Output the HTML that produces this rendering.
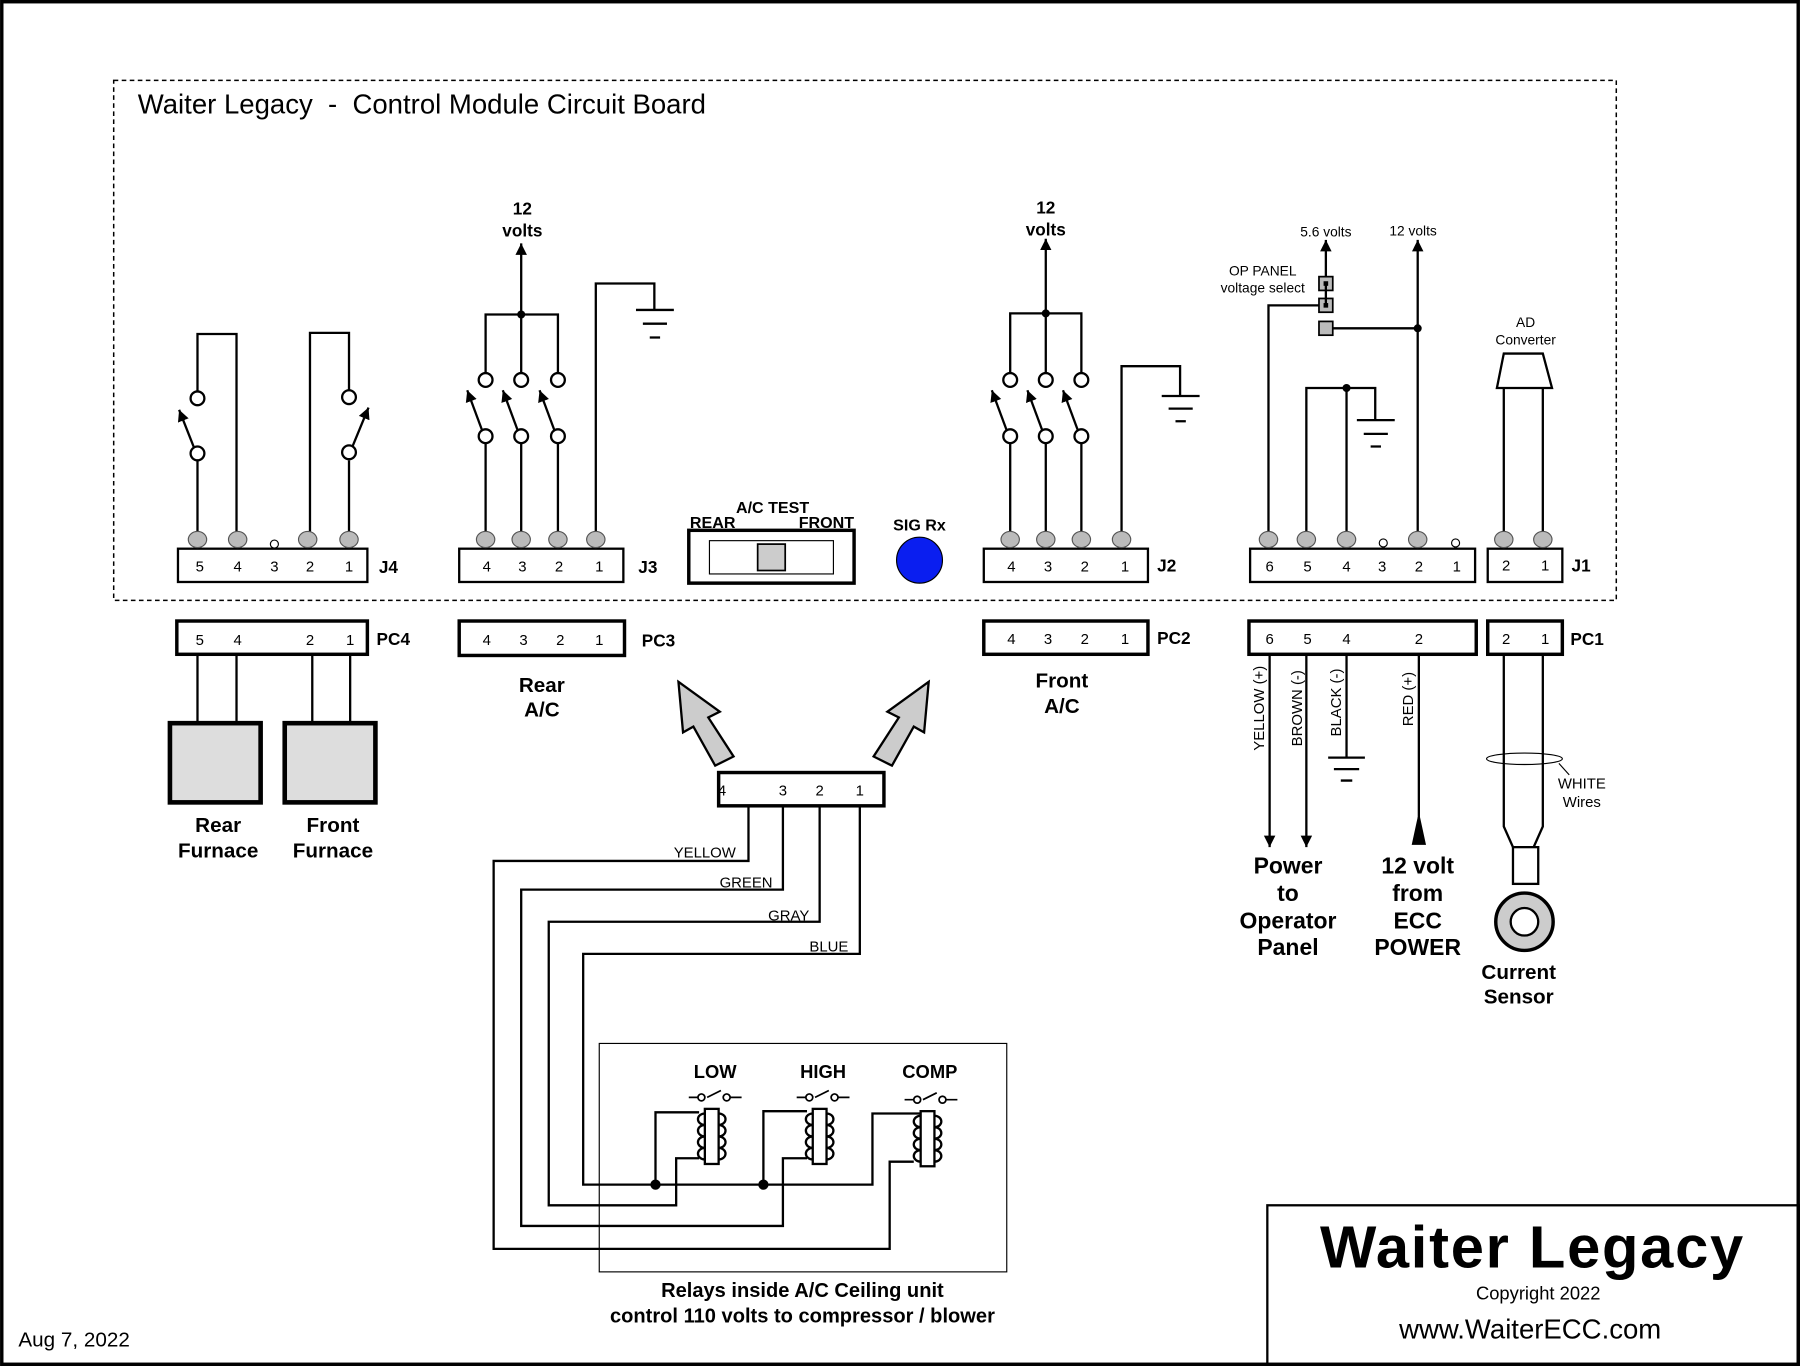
<!DOCTYPE html>
<html><head><meta charset="utf-8"><style>
html,body{margin:0;padding:0;background:#fff}
svg{display:block}
text{font-family:"Liberation Sans",Arial,sans-serif;fill:#000}
</style></head><body>
<svg width="1800" height="1366" viewBox="0 0 1568 1190" xmlns="http://www.w3.org/2000/svg">
<defs>
<marker id="ah" markerWidth="12" markerHeight="12" refX="10" refY="5" orient="auto" markerUnits="userSpaceOnUse">
<path d="M0,0 L10,5 L0,10 Z" fill="#000"/></marker>
</defs>
<rect x="1.5" y="1.5" width="1565" height="1187" fill="#fff" stroke="#000" stroke-width="3"/>
<rect x="99" y="70" width="1309" height="453" fill="none" stroke="#000" stroke-width="1.3" stroke-dasharray="4,3"/>
<text x="120" y="99" font-size="24" xml:space="preserve">Waiter Legacy  -  Control Module Circuit Board</text>

<g stroke="#000" stroke-width="2" fill="none">
<rect x="155" y="478" width="165" height="29"/>
<path d="M172,470 V401 M172,347 V291 H206 V470"/>
<path d="M304,470 V401 M304,340 V290 H270 V470"/>
<circle cx="172" cy="395" r="6" fill="#fff"/><circle cx="172" cy="347" r="6" fill="#fff"/>
<circle cx="304" cy="394" r="6" fill="#fff"/><circle cx="304" cy="346" r="6" fill="#fff"/>
<line x1="169" y1="390" x2="156" y2="357" marker-end="url(#ah)"/>
<line x1="307" y1="389" x2="321" y2="355" marker-end="url(#ah)"/>
<rect x="400" y="478" width="143" height="29"/>
<path d="M423,470 V386 M454,470 V386 M486,470 V386 M423,325 V274 H486 V325 M454,325 V274"/>
<line x1="454" y1="274" x2="454" y2="212" marker-end="url(#ah)"/>
<circle cx="423" cy="380" r="6" fill="#fff"/><circle cx="454" cy="380" r="6" fill="#fff"/><circle cx="486" cy="380" r="6" fill="#fff"/>
<circle cx="423" cy="331" r="6" fill="#fff"/><circle cx="454" cy="331" r="6" fill="#fff"/><circle cx="486" cy="331" r="6" fill="#fff"/>
<line x1="420" y1="375" x2="407" y2="340" marker-end="url(#ah)"/>
<line x1="451" y1="375" x2="438" y2="340" marker-end="url(#ah)"/>
<line x1="483" y1="375" x2="470" y2="340" marker-end="url(#ah)"/>
<path d="M519,470 V247 H570 V270 M554,270 H587 M560,282 H581 M566,294 H575"/>
<rect x="600" y="462" width="144" height="46" stroke-width="3"/>
<rect x="618" y="471" width="108" height="29" stroke-width="1"/>
<rect x="660" y="474" width="24" height="23" fill="#ccc" stroke-width="1.5"/>
<rect x="857" y="478" width="143" height="29"/>
<path d="M880,470 V386 M911,470 V386 M942,470 V386 M880,325 V273 H942 V325 M911,325 V273"/>
<line x1="911" y1="273" x2="911" y2="208" marker-end="url(#ah)"/>
<circle cx="880" cy="380" r="6" fill="#fff"/><circle cx="911" cy="380" r="6" fill="#fff"/><circle cx="942" cy="380" r="6" fill="#fff"/>
<circle cx="880" cy="331" r="6" fill="#fff"/><circle cx="911" cy="331" r="6" fill="#fff"/><circle cx="942" cy="331" r="6" fill="#fff"/>
<line x1="877" y1="375" x2="864" y2="340" marker-end="url(#ah)"/>
<line x1="908" y1="375" x2="895" y2="340" marker-end="url(#ah)"/>
<line x1="939" y1="375" x2="926" y2="340" marker-end="url(#ah)"/>
<path d="M977,470 V319 H1028 V345 M1012,345 H1045 M1018,356 H1039 M1024,367 H1033"/>
<rect x="1089" y="478" width="196" height="29"/>
<rect x="1296" y="478" width="65" height="29"/>
<path d="M1105,470 V266 H1149 M1138,470 V338 H1198 V366 M1173,470 V338 M1182,366 H1215 M1188,378 H1209 M1194,389 H1203"/>
<path d="M1160,286 H1235 M1235,470 V286"/>
<line x1="1235" y1="286" x2="1235" y2="209" marker-end="url(#ah)"/>
<line x1="1155" y1="241" x2="1155" y2="209" marker-end="url(#ah)"/>
<path d="M1310,470 V338 M1344,470 V338"/>
<path d="M1310,308 H1344 L1352,338 H1304 Z"/>
</g>
<g stroke="#000" stroke-width="1.5">
<rect x="1149" y="241" width="12" height="12" fill="#bbb"/>
<rect x="1149" y="260" width="12" height="12" fill="#bbb"/>
<rect x="1149" y="280" width="12" height="12" fill="#bbb"/>
<line x1="1155" y1="247" x2="1155" y2="266" stroke-width="2"/>
</g>
<rect x="1153" y="245" width="4" height="4"/><rect x="1153" y="264" width="4" height="4"/>
<g fill="#000">
<circle cx="454" cy="274" r="3.5"/><circle cx="911" cy="273" r="3.5"/><circle cx="1235" cy="286" r="3.5"/><circle cx="1173" cy="338" r="3.5"/>
</g>
<g fill="#bbb" stroke="#555" stroke-width="1">
<ellipse cx="172" cy="470" rx="8" ry="7"/><ellipse cx="207" cy="470" rx="8" ry="7"/><ellipse cx="268" cy="470" rx="8" ry="7"/><ellipse cx="304" cy="470" rx="8" ry="7"/>
<ellipse cx="423" cy="470" rx="8" ry="7"/><ellipse cx="454" cy="470" rx="8" ry="7"/><ellipse cx="486" cy="470" rx="8" ry="7"/><ellipse cx="519" cy="470" rx="8" ry="7"/>
<ellipse cx="880" cy="470" rx="8" ry="7"/><ellipse cx="911" cy="470" rx="8" ry="7"/><ellipse cx="942" cy="470" rx="8" ry="7"/><ellipse cx="977" cy="470" rx="8" ry="7"/>
<ellipse cx="1105" cy="470" rx="8" ry="7"/><ellipse cx="1138" cy="470" rx="8" ry="7"/><ellipse cx="1173" cy="470" rx="8" ry="7"/><ellipse cx="1235" cy="470" rx="8" ry="7"/>
<ellipse cx="1310" cy="470" rx="8" ry="7"/><ellipse cx="1344" cy="470" rx="8" ry="7"/>
</g>
<g fill="#fff" stroke="#000" stroke-width="1">
<circle cx="239" cy="474" r="3.5"/><circle cx="1205" cy="473" r="3.5"/><circle cx="1268" cy="473" r="3.5"/>
</g>
<circle cx="801" cy="488" r="20" fill="#0a1ef0" stroke="#000" stroke-width="1"/>

<g font-size="13" text-anchor="middle">
<text x="174" y="498">5</text><text x="207" y="498">4</text><text x="239" y="498">3</text><text x="270" y="498">2</text><text x="304" y="498">1</text>
<text x="424" y="498">4</text><text x="455" y="498">3</text><text x="487" y="498">2</text><text x="522" y="498">1</text>
<text x="881" y="498">4</text><text x="913" y="498">3</text><text x="945" y="498">2</text><text x="980" y="498">1</text>
<text x="1106" y="498">6</text><text x="1139" y="498">5</text><text x="1173" y="498">4</text><text x="1204" y="498">3</text><text x="1236" y="498">2</text><text x="1269" y="498">1</text>
<text x="1312" y="497">2</text><text x="1346" y="497">1</text>
<text x="174" y="562">5</text><text x="207" y="562">4</text><text x="270" y="562">2</text><text x="305" y="562">1</text>
<text x="424" y="562">4</text><text x="456" y="562">3</text><text x="488" y="562">2</text><text x="522" y="562">1</text>
<text x="881" y="561">4</text><text x="913" y="561">3</text><text x="945" y="561">2</text><text x="980" y="561">1</text>
<text x="1106" y="561">6</text><text x="1139" y="561">5</text><text x="1173" y="561">4</text><text x="1236" y="561">2</text>
<text x="1312" y="561">2</text><text x="1346" y="561">1</text>
<text x="629" y="693">4</text><text x="682" y="693">3</text><text x="714" y="693">2</text><text x="749" y="693">1</text>
</g>
<g font-size="15" font-weight="bold">
<text x="330" y="499">J4</text><text x="556" y="499">J3</text><text x="1008" y="498">J2</text><text x="1369" y="498">J1</text>
<text x="328" y="562">PC4</text><text x="559" y="563">PC3</text><text x="1008" y="561">PC2</text><text x="1368" y="562">PC1</text>
</g>
<g font-size="15" font-weight="bold" text-anchor="middle">
<text x="455" y="187">12</text><text x="455" y="206">volts</text>
<text x="911" y="186">12</text><text x="911" y="205">volts</text>
<text x="673" y="447" font-size="14">A/C TEST</text>
<text x="801" y="462" font-size="14">SIG Rx</text>
</g>
<text x="601" y="460" font-size="14" font-weight="bold">REAR</text>
<text x="744" y="460" font-size="14" font-weight="bold" text-anchor="end">FRONT</text>
<g font-size="12" text-anchor="middle">
<text x="1155" y="206">5.6 volts</text><text x="1231" y="205">12 volts</text>
<text x="1100" y="240">OP PANEL</text><text x="1100" y="255">voltage select</text>
<text x="1329" y="285">AD</text><text x="1329" y="300">Converter</text>
</g>

<g stroke="#000" stroke-width="2" fill="none">
<rect x="154" y="541" width="166" height="29" stroke-width="3"/>
<rect x="400" y="541" width="144" height="30" stroke-width="3"/>
<rect x="857" y="541" width="143" height="29" stroke-width="3"/>
<rect x="1088" y="541" width="198" height="29" stroke-width="3"/>
<rect x="1296" y="541" width="65" height="29" stroke-width="3"/>
<path d="M172,570 V630 M206,570 V630 M272,570 V630 M305,570 V630"/>
<rect x="148" y="630" width="79" height="69" fill="#ddd" stroke-width="4"/>
<rect x="248" y="630" width="79" height="69" fill="#ddd" stroke-width="4"/>
<line x1="1106" y1="570" x2="1106" y2="738" marker-end="url(#ah)"/>
<line x1="1138" y1="570" x2="1138" y2="738" marker-end="url(#ah)"/>
<path d="M1173,570 V660 M1157,660 H1189 M1162,670 H1184 M1168,680 H1178"/>
<line x1="1236" y1="735" x2="1236" y2="570"/>
<path d="M1231,735 L1236,712 L1241,735 Z" fill="#000"/>
<path d="M1310,570 V720 L1318,738 M1344,570 V720 L1336,738"/>
<rect x="1318" y="738" width="22" height="32"/>
<ellipse cx="1328" cy="661" rx="33" ry="5" stroke-width="1"/>
<line x1="1358" y1="665" x2="1367" y2="675" stroke-width="1"/>
<circle cx="1328" cy="803" r="25" fill="#ccc" stroke-width="3"/>
<circle cx="1328" cy="803" r="12" fill="#fff" stroke-width="2"/>
<rect x="626" y="673" width="144" height="29" stroke-width="3"/>
<path d="M652,702 V750 H430 V1088 H775 V1012 H796"/>
<path d="M682,702 V775 H454 V1068 H682 V1009 H703"/>
<path d="M714,702 V803 H478 V1050 H589 V1009 H609"/>
<path d="M749,702 V831 H508 V1032 H760 V970 H802 M571,1032 V969 H609 M665,1032 V968 H703"/>
<rect x="522" y="909" width="355" height="199" stroke-width="1"/>
</g>
<g fill="#ccc" stroke="#000" stroke-width="2">
<polygon points="591,594 627,620 617,625 639,659 623,667 604,633 595,638"/>
<polygon points="809,594 773,620 783,625 761,659 777,667 796,633 805,638"/>
</g>
<g fill="#000"><circle cx="571" cy="1032" r="4.5"/><circle cx="665" cy="1032" r="4.5"/></g>
<g stroke="#000" stroke-width="2" fill="none">
<g id="r1">
<rect x="614" y="966" width="12" height="48" fill="#fff"/>
<path d="M614,970 a6,5 0 0 0 0,10 a6,5 0 0 0 0,10 a6,5 0 0 0 0,10 a6,5 0 0 0 0,10"/>
<path d="M626,970 a6,5 0 0 1 0,10 a6,5 0 0 1 0,10 a6,5 0 0 1 0,10 a6,5 0 0 1 0,10"/>
<path d="M600,956 H608 M616,956 L628,950 M636,956 H646" stroke-width="1.5"/>
<circle cx="611" cy="956" r="3" stroke-width="1.5"/><circle cx="633" cy="956" r="3" stroke-width="1.5"/>
</g>
<use href="#r1" x="94"/>
<use href="#r1" x="188" y="2"/>
</g>
<g font-size="16" font-weight="bold" text-anchor="middle">
<text x="623" y="939">LOW</text><text x="717" y="939">HIGH</text><text x="810" y="939">COMP</text>
<text x="699" y="1130" font-size="17.5">Relays inside A/C Ceiling unit</text>
<text x="699" y="1152" font-size="17.5">control 110 volts to compressor / blower</text>
</g>
<g font-size="13" text-anchor="end">
<text x="641" y="747">YELLOW</text><text x="673" y="773">GREEN</text><text x="705" y="802">GRAY</text><text x="739" y="829">BLUE</text>
</g>
<g font-size="18" font-weight="bold" text-anchor="middle">
<text x="190" y="725">Rear</text><text x="190" y="747">Furnace</text>
<text x="290" y="725">Front</text><text x="290" y="747">Furnace</text>
<text x="472" y="603">Rear</text><text x="472" y="624">A/C</text>
<text x="925" y="599">Front</text><text x="925" y="621">A/C</text>
<text x="1323" y="853">Current</text><text x="1323" y="874">Sensor</text>
</g>
<g font-size="20" font-weight="bold" text-anchor="middle">
<text x="1122" y="761">Power</text><text x="1122" y="785">to</text><text x="1122" y="809">Operator</text><text x="1122" y="832">Panel</text>
<text x="1235" y="761">12 volt</text><text x="1235" y="785">from</text><text x="1235" y="809">ECC</text><text x="1235" y="832">POWER</text>
</g>
<g font-size="13" text-anchor="middle">
<text transform="translate(1101,617) rotate(-90)">YELLOW (+)</text>
<text transform="translate(1134,617) rotate(-90)">BROWN (-)</text>
<text transform="translate(1168,612) rotate(-90)">BLACK (-)</text>
<text transform="translate(1231,609) rotate(-90)">RED (+)</text>
<text x="1378" y="687">WHITE</text><text x="1378" y="703">Wires</text>
</g>
<rect x="1104" y="1050" width="463" height="139" fill="none" stroke="#000" stroke-width="2"/>
<text x="1335" y="1104" font-size="52" font-weight="bold" text-anchor="middle" letter-spacing="1.5">Waiter Legacy</text>
<text x="1340" y="1132" font-size="16" text-anchor="middle">Copyright 2022</text>
<text x="1333" y="1166" font-size="24" text-anchor="middle">www.WaiterECC.com</text>
<text x="16" y="1173" font-size="18">Aug 7, 2022</text>
</svg>
</body></html>
